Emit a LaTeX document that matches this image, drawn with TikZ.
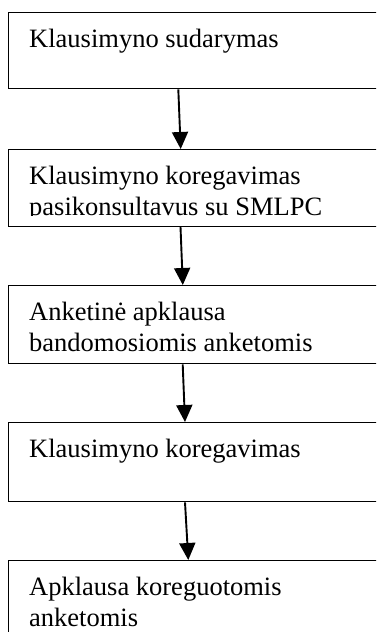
\documentclass[tikz,border=0pt]{standalone}
\usepackage{fontspec}
\setmainfont{Liberation Serif}
\usetikzlibrary{arrows.meta,calc}
\begin{document}
\begin{tikzpicture}[x=1pt,y=-1pt,
  box/.style={draw=black, line width=1.3pt, rectangle, anchor=north west, minimum width=420pt, inner sep=0pt},
  txt/.style={anchor=north west, inner sep=0pt, align=left, font=\fontsize{26.5}{31}\selectfont},
  arr/.style={line width=1.9pt, -{Triangle[length=17pt,width=16pt]}}]
\useasboundingbox (0,0) rectangle (376,632);
\clip (0,0) rectangle (376,632);
\fill[white] (0,0) rectangle (376,632);
% boxes
\node[box, minimum height=76pt] (b1) at (8,12) {};
\node[box, minimum height=76.5pt] (b2) at (8,149) {};
\node[box, minimum height=78pt] (b3) at (8,285) {};
\node[box, minimum height=79pt] (b4) at (8,422) {};
\node[box, minimum height=100pt] (b5) at (8,560) {};
% texts
\node[txt] (t1) at (29,29) {Klausimyno sudarymas};
\begin{scope}
  \clip (0,149) rectangle (376,215.5);
  \node[txt] (t2) at (29,166) {Klausimyno koregavimas\\pasikonsultavus su SMLPC};
\end{scope}
\node[txt] (t3) at (29,302) {Anketinė apklausa\\bandomosiomis anketomis};
\node[txt] (t4) at (29,439) {Klausimyno koregavimas};
\node[txt] (t5) at (29,577) {Apklausa koreguotomis\\anketomis};
% arrows
\draw[arr] ($(b1.south west)+(170.3,0)$) -- ($(b2.north west)+(172.7,0)$);
\draw[arr] ($(b2.south west)+(172.5,0)$) -- ($(b3.north west)+(174.8,0)$);
\draw[arr] ($(b3.south west)+(174.7,0)$) -- ($(b4.north west)+(177,0)$);
\draw[arr] ($(b4.south west)+(177,0)$) -- ($(b5.north west)+(180.3,0)$);
\end{tikzpicture}
\end{document}
